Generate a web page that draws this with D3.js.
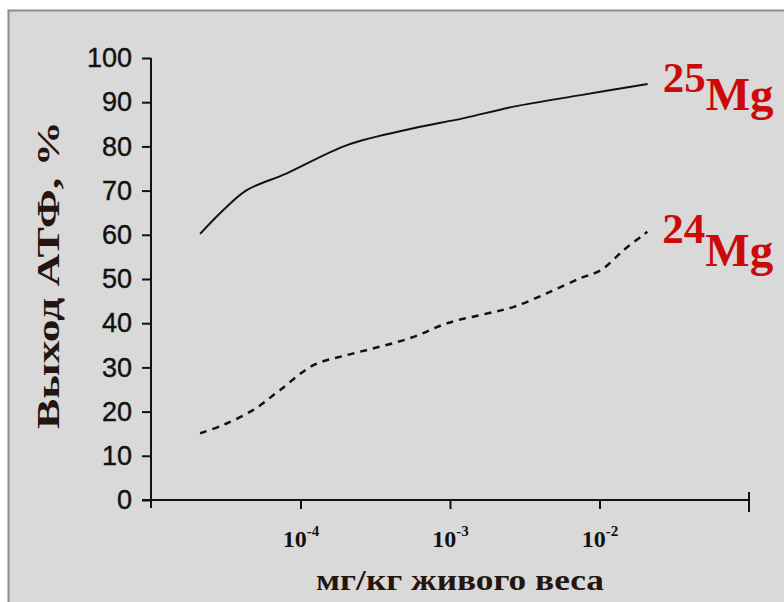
<!DOCTYPE html>
<html>
<head>
<meta charset="utf-8">
<script src="https://cdn.jsdelivr.net/npm/d3@7"></script>
<style>
  html, body { margin: 0; padding: 0; background: #ffffff; }
  svg { display: block; }
</style>
</head>
<body>
<svg id="chart" width="784" height="602"></svg>
<script>
// ---------- data ----------
const yTicks = [0, 10, 20, 30, 40, 50, 60, 70, 80, 90, 100];
const xTickExps = [-4, -3, -2];
const xDomain = [1e-5, 1e-1];

const mg25Dose  = [2.13e-5, 3.05e-5, 4.37e-5, 8.1e-5, 2.05e-4, 5.7e-4, 1.24e-3, 2.67e-3, 7.5e-3, 2.1e-2];
const mg25Yield = [60.2, 65.6, 70.1, 73.9, 80.3, 84.1, 86.4, 89.0, 91.6, 94.1];

const mg24Dose  = [2.13e-5, 3.05e-5, 4.84e-5, 7.31e-5, 1.22e-4, 2.05e-4, 3.42e-4, 5.71e-4, 9.57e-4, 1.77e-3, 2.67e-3, 4.47e-3, 7.46e-3, 1.02e-2, 1.46e-2, 2.09e-2];
const mg24Yield = [15.1, 17.0, 20.4, 24.9, 30.5, 32.8, 34.7, 36.9, 40.0, 42.2, 43.7, 46.8, 50.2, 52.0, 56.6, 60.7];

const seriesLabels = ["25", "24"];
const elementLabel = "Mg";

const yTitle = "Выход АТФ, %";
const xTitle = "мг/кг живого веса";

(function () {
const series = [
  { mass: seriesLabels[0], dose: mg25Dose, yield: mg25Yield, dash: null, ldy: 8, mdy: 18 },
  { mass: seriesLabels[1], dose: mg24Dose, yield: mg24Yield, dash: "7,6", ldy: 11, mdy: 23 }
];

const svg = d3.select("#chart");
const pLeft = 151, pRight = 749, pTop = 58, pBottom = 500;

svg.append("rect")
  .attr("x", 8.5).attr("y", 10.5)
  .attr("width", 800).attr("height", 620)
  .attr("fill", "#d9d9d9")
  .attr("stroke", "#8c8c8c")
  .attr("stroke-width", 2);

const x = d3.scaleLog().domain(xDomain).range([pLeft, pRight]);
const y = d3.scaleLinear().domain([0, 100]).range([pBottom, pTop]);

// ---------- y axis ----------
const yAxis = svg.append("g")
  .attr("transform", `translate(${pLeft},0)`)
  .call(d3.axisLeft(y).tickValues(yTicks).tickSize(9).tickSizeOuter(0).tickPadding(10));
yAxis.select(".domain").attr("stroke", "#111").attr("stroke-width", 2)
  .attr("d", `M0,${pTop}V${pBottom + 8}`);
yAxis.selectAll(".tick line").attr("stroke", "#111").attr("stroke-width", 2);
yAxis.selectAll(".tick text")
  .attr("font-family", "Arial, 'Liberation Sans', sans-serif")
  .attr("font-size", 27)
  .attr("fill", "#111")
  .attr("stroke", "#111")
  .attr("stroke-width", 0.4);

// ---------- x axis ----------
const xAxis = svg.append("g")
  .attr("transform", `translate(0,${pBottom})`)
  .call(d3.axisBottom(x).tickValues(xTickExps.map(e => Math.pow(10, e)))
    .tickSize(9).tickSizeOuter(0).tickFormat(""));
xAxis.select(".domain").attr("stroke", "#111").attr("stroke-width", 2)
  .attr("d", `M${pLeft - 9},0H${pRight}`);
xAxis.selectAll(".tick line").attr("stroke", "#111").attr("stroke-width", 2);
xAxis.append("line")
  .attr("x1", x(xDomain[1])).attr("x2", x(xDomain[1]))
  .attr("y1", -8).attr("y2", 12)
  .attr("stroke", "#111").attr("stroke-width", 2);

const xLab = xAxis.selectAll(".tick")
  .append("text")
  .attr("y", 47)
  .attr("fill", "#111")
  .attr("font-family", "'Liberation Serif', 'Times New Roman', serif")
  .attr("font-weight", "bold")
  .attr("text-anchor", "middle")
  .attr("font-size", 24);
xLab.each(function (d) {
  const t = d3.select(this);
  const e = Math.round(Math.log10(d));
  t.append("tspan").text("10");
  t.append("tspan").attr("dy", -11).attr("font-size", 15).text(String(e));
});

// ---------- titles ----------
svg.append("text")
  .attr("transform", `translate(59,275) rotate(-90)`)
  .attr("text-anchor", "middle")
  .attr("font-family", "'Liberation Serif', 'Times New Roman', serif")
  .attr("font-weight", "bold")
  .attr("font-size", 31)
  .attr("fill", "#24150e")
  .attr("textLength", 308)
  .attr("lengthAdjust", "spacingAndGlyphs")
  .text(yTitle);

svg.append("text")
  .attr("x", 460).attr("y", 590)
  .attr("text-anchor", "middle")
  .attr("font-family", "'Liberation Serif', 'Times New Roman', serif")
  .attr("font-weight", "bold")
  .attr("font-size", 30)
  .attr("fill", "#24150e")
  .attr("textLength", 288)
  .attr("lengthAdjust", "spacingAndGlyphs")
  .text(xTitle);

// ---------- lines ----------
const line = d3.line()
  .x(d => x(d[0]))
  .y(d => y(d[1]))
  .curve(d3.curveCatmullRom.alpha(0.5));

series.forEach(s => {
  const pts = s.dose.map((d, i) => [d, s.yield[i]]);
  svg.append("path")
    .attr("d", line(pts))
    .attr("fill", "none")
    .attr("stroke", "#111")
    .attr("stroke-width", s.dash ? 2.5 : 2)
    .attr("stroke-dasharray", s.dash);

  const last = pts[pts.length - 1];
  const lx = x(last[0]) + 15, ly = y(last[1]);
  const lab = svg.append("text")
    .attr("x", lx).attr("y", ly + s.ldy)
    .attr("font-family", "'Liberation Serif', 'Times New Roman', serif")
    .attr("font-weight", "bold")
    .attr("font-size", 43)
    .attr("fill", "#cc0a0a");
  lab.append("tspan").text(s.mass);
  lab.append("tspan").attr("dy", s.mdy).attr("font-size", 47).text(elementLabel);
});
})();
</script>
</body>
</html>
